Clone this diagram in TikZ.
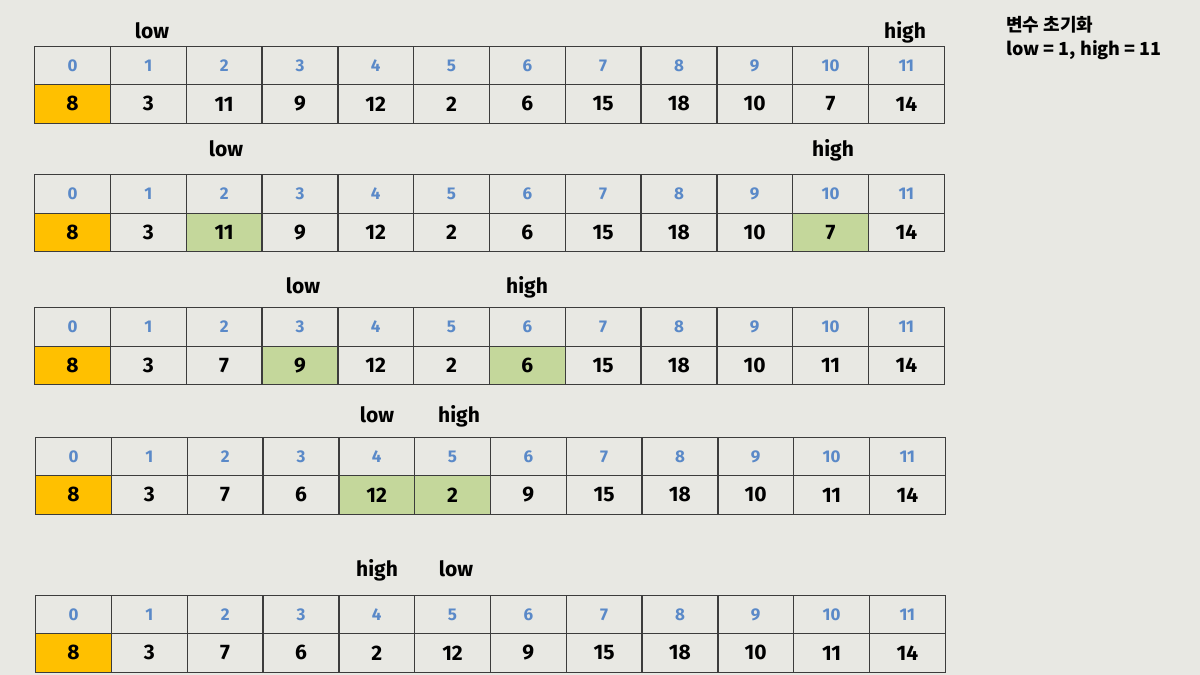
\documentclass[tikz,border=0pt]{standalone}
\usepackage{fontspec}
\setmainfont{Fira Sans}
\newfontfamily\krfont{Noto Sans CJK KR}
\usetikzlibrary{positioning}

\definecolor{bgcol}{HTML}{E8E8E3}
\definecolor{lineco}{HTML}{3C3C3C}
\definecolor{idxblue}{HTML}{5A89C8}
\definecolor{pivot}{HTML}{FFC000}
\definecolor{swap}{HTML}{C4D79B}

\tikzset{
  cell/.style={draw=lineco, line width=1.3pt, minimum width=75.8pt, minimum height=38.5pt,
    inner sep=0pt, anchor=north west},
  idx/.style={cell, text=idxblue, font=\fontsize{17}{17}\selectfont\bfseries},
  val/.style={cell, font=\fontsize{21}{21}\selectfont\bfseries},
  ptr/.style={anchor=base, inner sep=0pt, font=\fontsize{21}{21}\selectfont\bfseries},
  note/.style={anchor=west, inner sep=0pt, font=\krfont\fontsize{18}{18}\selectfont\bfseries}
}

% one array: name, left x, top y, value/fill pairs
\newcommand{\arrrow}[4]{%
  \foreach \v/\c [count=\i from 0] in {#4} {
    \node[idx] (#1i\i) at ({#2+\i*75.8},#3) {\i};
    \node[val, fill=\c] (#1v\i) at ({#2+\i*75.8},{#3+38.5}) {\v};
  }
}

\begin{document}
\begin{tikzpicture}[x=1pt, y=-1pt]
  \useasboundingbox[fill=bgcol] (0,0) rectangle (1200,675);

  \arrrow{a}{34}{45.5}{8/pivot,3/none,11/none,9/none,12/none,2/none,6/none,15/none,18/none,10/none,7/none,14/none}
  \arrrow{b}{34}{174}{8/pivot,3/none,11/swap,9/none,12/none,2/none,6/none,15/none,18/none,10/none,7/swap,14/none}
  \arrrow{c}{34}{307}{8/pivot,3/none,7/none,9/swap,12/none,2/none,6/swap,15/none,18/none,10/none,11/none,14/none}
  \arrrow{d}{35}{436.5}{8/pivot,3/none,7/none,6/none,12/swap,2/swap,9/none,15/none,18/none,10/none,11/none,14/none}
  \arrrow{e}{35}{594.5}{8/pivot,3/none,7/none,6/none,2/none,12/none,9/none,15/none,18/none,10/none,11/none,14/none}

  \node[ptr] (alow) at (152,38) {low};
  \node[ptr] (ahigh) at (905,38) {high};
  \node[ptr] (blow) at (226,156.5) {low};
  \node[ptr] (bhigh) at (833,156.5) {high};
  \node[ptr] (clow) at (303,293) {low};
  \node[ptr] (chigh) at (527,293) {high};
  \node[ptr] (dlow) at (377,422.5) {low};
  \node[ptr] (dhigh) at (459,422.5) {high};
  \node[ptr] (ehigh) at (377,576) {high};
  \node[ptr] (elow) at (456,576) {low};

  \node[note] (title) at (1006,25) {변수 초기화};
  \node[note] (init) at (1006,50) {low = 1, high = 11};
\end{tikzpicture}
\end{document}
